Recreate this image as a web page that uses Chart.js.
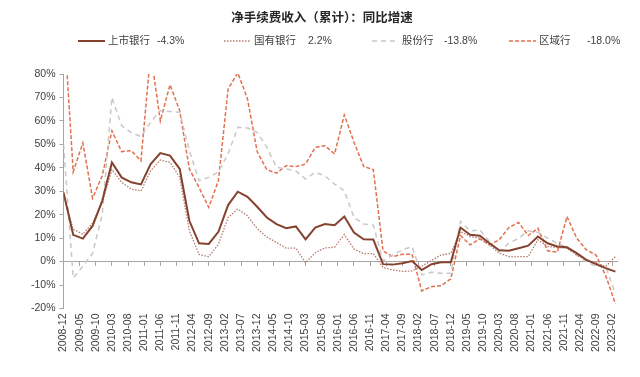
<!DOCTYPE html>
<html lang="zh-CN">
<head>
<meta charset="UTF-8">
<title>净手续费收入（累计）：同比增速</title>
<style>
    html, body {
        margin: 0;
        padding: 0;
        background: #ffffff;
    }
    #wrap {
        width: 640px;
        height: 377px;
    }
</style>
</head>
<body>
<div id="wrap"><canvas id="chart" width="640" height="377"></canvas></div>
<script src="https://cdn.jsdelivr.net/npm/chart.js"></script>
<script>
// quarterly points (cumulative YoY growth, %)
const quarters = [
    '2008-12',
    '2009-03', '2009-06', '2009-09', '2009-12',
    '2010-03', '2010-06', '2010-09', '2010-12',
    '2011-03', '2011-06', '2011-09', '2011-12',
    '2012-03', '2012-06', '2012-09', '2012-12',
    '2013-03', '2013-06', '2013-09', '2013-12',
    '2014-03', '2014-06', '2014-09', '2014-12',
    '2015-03', '2015-06', '2015-09', '2015-12',
    '2016-03', '2016-06', '2016-09', '2016-12',
    '2017-03', '2017-06', '2017-09', '2017-12',
    '2018-03', '2018-06', '2018-09', '2018-12',
    '2019-03', '2019-06', '2019-09', '2019-12',
    '2020-03', '2020-06', '2020-09', '2020-12',
    '2021-03', '2021-06', '2021-09', '2021-12',
    '2022-03', '2022-06', '2022-09', '2022-12',
    '2023-03'
];

const tickLabels = [
    '2008-12', '2009-05', '2009-10', '2010-03', '2010-08', '2011-01', '2011-06',
    '2011-11', '2012-04', '2012-09', '2013-02', '2013-07', '2013-12', '2014-05',
    '2014-10', '2015-03', '2015-08', '2016-01', '2016-06', '2016-11', '2017-04',
    '2017-09', '2018-02', '2018-07', '2018-12', '2019-05', '2019-10', '2020-03',
    '2020-08', '2021-01', '2021-06', '2021-11', '2022-04', '2022-09', '2023-02'
];

const seriesNames = ['上市银行', '国有银行', '股份行', '区域行'];
const legendValues = ['-4.3%', '2.2%', '-13.8%', '-18.0%'];

const listed = [
    29.5,
    11.4, 9.8, 15.2, 25.9,
    42.3, 35.9, 33.8, 32.9,
    41.6, 46.3, 45.2, 39.5,
    17.4, 7.8, 7.5, 12.7,
    24.1, 29.8, 27.6, 23.4,
    18.8, 16.0, 14.2, 15.0,
    9.5, 14.5, 16.0, 15.5,
    19.2, 12.4, 9.5, 9.4,
    -1.1, -1.3, -0.7, 0.2,
    -3.6, -1.1, -0.3, -0.3,
    14.5, 11.4, 11.0, 7.8,
    4.8, 4.6, 5.7, 6.8,
    10.7, 7.8, 6.4, 6.1,
    3.6, 0.7, -1.1, -2.8,
    -4.3
];

const stateOwned = [
    28.5,
    13.8, 11.7, 16.4, 25.2,
    39.2, 33.8, 30.9, 30.1,
    38.7, 43.3, 42.3, 35.9,
    13.1, 3.0, 2.1, 7.4,
    18.8, 22.4, 19.5, 14.1,
    10.5, 8.1, 5.7, 5.7,
    -0.5, 3.8, 5.8, 6.1,
    11.5, 5.3, 3.4, 3.4,
    -2.5, -3.6, -4.2, -4.0,
    -2.0, 0.5, 2.8, 3.5,
    12.8, 10.7, 10.0, 7.1,
    3.6, 2.1, 2.1, 2.1,
    9.3, 6.4, 6.0, 5.7,
    2.8, 0.7, -0.7, -2.1,
    2.2
];

const jointStock = [
    50.0,
    -7.0, -2.0, 3.5, 20.0,
    70.0, 58.0, 55.0, 53.3,
    59.4, 64.4, 64.0, 63.7,
    47.3, 34.5, 35.9, 38.3,
    45.9, 57.3, 57.0, 55.1,
    48.7, 40.2, 39.5, 38.7,
    35.2, 38.0, 36.6, 33.0,
    30.2, 18.8, 16.0, 15.5,
    0.3, 2.8, 5.0, 6.4,
    -5.7, -4.6, -5.0, -5.0,
    17.1, 13.1, 13.5, 8.5,
    4.3, 7.8, 10.0, 13.1,
    12.5, 10.0, 7.8, 6.0,
    2.8, 0.0, -2.1, -2.1,
    -13.8
];

const regional = [
    105.0,
    38.3, 50.6, 27.0, 36.6,
    55.8, 46.9, 47.3, 43.0,
    89.0, 60.0, 75.4, 64.4,
    39.5, 31.6, 23.1, 34.5,
    73.6, 80.5, 69.4, 46.9,
    39.2, 37.7, 40.9, 40.5,
    41.6, 48.7, 49.4, 45.9,
    62.5, 50.9, 40.6, 39.2,
    4.6, 2.1, 3.1, 3.1,
    -12.5, -10.7, -10.3, -7.4,
    11.1, 7.1, 9.7, 7.1,
    9.3, 14.5, 16.7, 11.1,
    14.2, 4.6, 4.0, 19.2,
    10.0, 5.0, 2.8, -6.0,
    -18.0
];

// months since 2008-12
function monthIndex(label) {
    const parts = label.split('-');
    return (parseInt(parts[0], 10) - 2008) * 12 + parseInt(parts[1], 10) - 12;
}

function toPoints(values) {
    return quarters.map((q, i) => ({ x: monthIndex(q), y: values[i] }));
}

const FONT = 'Arial, "Liberation Sans", "Noto Sans CJK SC", sans-serif';
const TEXT = '#404040';
const AXIS = '#a6a6a6';

Chart.defaults.font.family = FONT;
Chart.defaults.color = TEXT;

// legend drawn in one row, like the original
const legendX = [78, 224, 372, 509];
const valueX = [157, 308, 444, 587];

const rowLegend = {
    id: 'rowLegend',
    afterDraw(chart) {
        const ctx = chart.ctx;
        const y = 41;
        chart.data.datasets.forEach((ds, i) => {
            const x = legendX[i];
            ctx.save();
            ctx.strokeStyle = ds.borderColor;
            ctx.lineWidth = ds.borderWidth;
            ctx.setLineDash(ds.borderDash || []);
            ctx.beginPath();
            ctx.moveTo(x, y);
            ctx.lineTo(x + 27, y);
            ctx.stroke();
            ctx.setLineDash([]);
            ctx.fillStyle = TEXT;
            ctx.font = '10.5px ' + FONT;
            ctx.textBaseline = 'middle';
            ctx.textAlign = 'left';
            ctx.fillText(ds.label, x + 30, y);
            ctx.fillText(legendValues[i], valueX[i], y);
            ctx.restore();
        });
    }
};

function setTicks(scale) {
    scale.ticks = tickLabels.map(l => ({ value: monthIndex(l) }));
}

const ctx = document.getElementById('chart').getContext('2d');
const chart = new Chart(ctx, {
    type: 'line',
    data: {
        datasets: [
            { label: seriesNames[0], data: toPoints(listed), borderColor: '#84422f', borderWidth: 2, borderDash: [] },
            { label: seriesNames[1], data: toPoints(stateOwned), borderColor: '#b47c70', borderWidth: 1.3, borderDash: [1.5, 1.5] },
            { label: seriesNames[2], data: toPoints(jointStock), borderColor: '#c8c8c8', borderWidth: 1.5, borderDash: [5, 4] },
            { label: seriesNames[3], data: toPoints(regional), borderColor: '#e2704f', borderWidth: 1.5, borderDash: [4, 2] }
        ]
    },
    options: {
        responsive: false,
        animation: false,
        devicePixelRatio: 1,
        layout: { padding: { left: 27, right: 23, top: 11, bottom: 20 } },
        elements: {
            point: { radius: 0, hoverRadius: 0 },
            line: { tension: 0, fill: false }
        },
        plugins: {
            legend: { display: false },
            tooltip: { enabled: false },
            title: {
                display: true,
                text: '净手续费收入（累计）：同比增速',
                color: '#262626',
                font: { size: 12.5, weight: 'bold' },
                padding: { top: 0, bottom: 48 }
            }
        },
        scales: {
            x: {
                type: 'linear',
                min: 0,
                max: 171.5,
                afterBuildTicks: setTicks,
                ticks: {
                    autoSkip: false,
                    maxRotation: 90,
                    minRotation: 90,
                    padding: 5,
                    color: TEXT,
                    font: { size: 10.5 },
                    callback: (v, i) => tickLabels[i]
                },
                grid: { display: false, drawTicks: false },
                border: { display: false }
            },
            x2: {
                type: 'linear',
                position: { y: 0 },
                min: 0,
                max: 171.5,
                afterBuildTicks: setTicks,
                ticks: { display: false },
                grid: { drawOnChartArea: false, drawTicks: true, tickLength: 4, color: AXIS },
                border: { color: AXIS }
            },
            y: {
                min: -20,
                max: 80,
                ticks: {
                    stepSize: 10,
                    padding: 4,
                    color: TEXT,
                    font: { size: 10.5 },
                    callback: v => v + '%'
                },
                grid: { drawOnChartArea: false, drawTicks: true, tickLength: 4, color: AXIS },
                border: { color: AXIS }
            }
        }
    },
    plugins: [rowLegend]
});
</script>
</body>
</html>
